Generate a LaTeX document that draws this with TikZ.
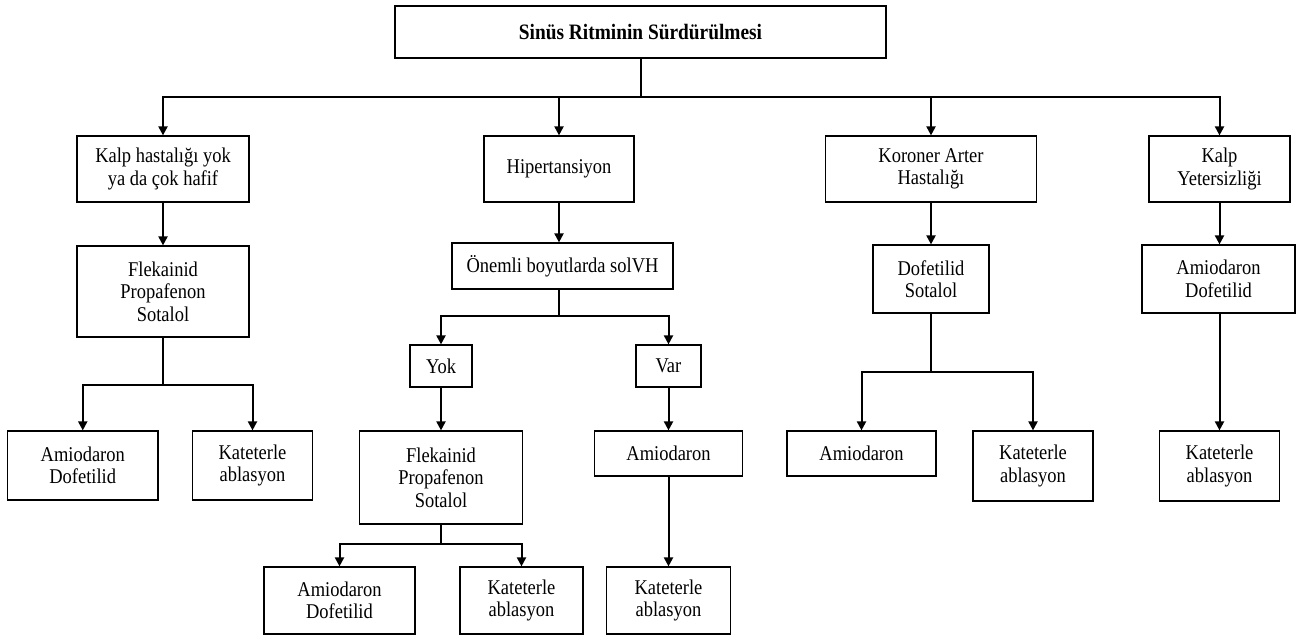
\documentclass[tikz,border=0pt]{standalone}
\usepackage{fontspec}
\setmainfont[FakeStretch=0.88]{Liberation Serif}
\usetikzlibrary{arrows.meta}
\begin{document}
\begin{tikzpicture}[x=1pt,y=-1pt,
  box/.style={draw=black, line width=1.2pt, inner sep=0pt, align=center,
    font=\fontsize{21}{22.5}\selectfont},
  title/.style={box, font=\fontsize{22}{24}\selectfont\bfseries},
  link/.style={line width=2pt},
  arr/.style={link, -{Triangle[length=9pt,width=9pt]}}]
\useasboundingbox (0,0) rectangle (1297,639);

% Root
\node[title, minimum width=491pt, minimum height=52pt] (root) at (640.5,32) {Sinüs Ritminin Sürdürülmesi};

% First level
\node[box, minimum width=172pt, minimum height=66pt] (k1) at (163,169) {Kalp hastalığı yok\\ya da çok hafif};
\node[box, minimum width=150pt, minimum height=66pt] (h1) at (559,169) {Hipertansiyon};
\node[box, minimum width=211pt, minimum height=66pt] (c1) at (931,169) {Koroner Arter\\Hastalığı};
\node[box, minimum width=141pt, minimum height=66pt] (y1) at (1219.5,169) {Kalp\\Yetersizliği};

% Second level
\node[box, minimum width=172pt, minimum height=91pt] (k2) at (163,291.5) {Flekainid\\Propafenon\\Sotalol};
\node[box, minimum width=221pt, minimum height=46pt] (h2) at (562.5,266) {Önemli boyutlarda solVH};
\node[box, minimum width=116pt, minimum height=68pt] (c2) at (931,279) {Dofetilid\\Sotalol};
\node[box, minimum width=153pt, minimum height=68pt] (y2) at (1218.5,279) {Amiodaron\\Dofetilid};

% No heart disease branch
\node[box, minimum width=150.5pt, minimum height=69pt] (k3a) at (82.75,465.5) {Amiodaron\\Dofetilid};
\node[box, minimum width=120pt, minimum height=69pt] (k3b) at (252.5,465.5) {Kateterle\\ablasyon};

% Hypertension branch
\node[box, minimum width=62pt, minimum height=42pt] (yok) at (441,366) {Yok};
\node[box, minimum width=65pt, minimum height=42pt] (var) at (668.5,366) {Var};
\node[box, minimum width=162.5pt, minimum height=93pt] (h3) at (441,477.5) {Flekainid\\Propafenon\\Sotalol};
\node[box, minimum width=148pt, minimum height=45pt] (v3) at (668.5,453.5) {Amiodaron};
\node[box, minimum width=151pt, minimum height=67pt] (h4a) at (339.5,600.5) {Amiodaron\\Dofetilid};
\node[box, minimum width=123pt, minimum height=67pt] (h4b) at (521.5,600.5) {Kateterle\\ablasyon};
\node[box, minimum width=124pt, minimum height=67pt] (v4) at (668.5,600.5) {Kateterle\\ablasyon};

% Coronary branch
\node[box, minimum width=149pt, minimum height=45pt] (c3a) at (861.5,453.5) {Amiodaron};
\node[box, minimum width=120pt, minimum height=70pt] (c3b) at (1033,466) {Kateterle\\ablasyon};

% Heart failure branch
\node[box, minimum width=120pt, minimum height=70pt] (y3) at (1219.5,466) {Kateterle\\ablasyon};

% Bus levels for the branching connectors
\coordinate (busroot) at (640.5,97);
\coordinate (busk) at (163,385);
\coordinate (bush) at (562.5,316);
\coordinate (bush3) at (441,544);
\coordinate (busc) at (931,372);

% Root to first level
\foreach \n in {k1,h1,c1,y1}
  \draw[arr] (root.south) -- (root.south |- busroot) -| (\n.north);

% Straight chains
\draw[arr] (k1.south) -- (k2.north);
\draw[arr] (h1.south) -- (h1.south |- h2.north);
\draw[arr] (c1.south) -- (c2.north);
\draw[arr] (y1.south) -- (y1.south |- y2.north);
\draw[arr] (yok.south) -- (h3.north);
\draw[arr] (var.south) -- (v3.north);
\draw[arr] (v3.south) -- (v4.north);
\draw[arr] (y2.south -| y3.north) -- (y3.north);

% Splits
\foreach \n in {k3a,k3b}
  \draw[arr] (k2.south) -- (k2.south |- busk) -| (\n.north);
\foreach \n in {yok,var}
  \draw[arr] (h2.south -| h1.south) -- (h1.south |- bush) -| (\n.north);
\foreach \n in {h4a,h4b}
  \draw[arr] (h3.south) -- (h3.south |- bush3) -| (\n.north);
\foreach \n in {c3a,c3b}
  \draw[arr] (c2.south) -- (c2.south |- busc) -| (\n.north);
\end{tikzpicture}
\end{document}
